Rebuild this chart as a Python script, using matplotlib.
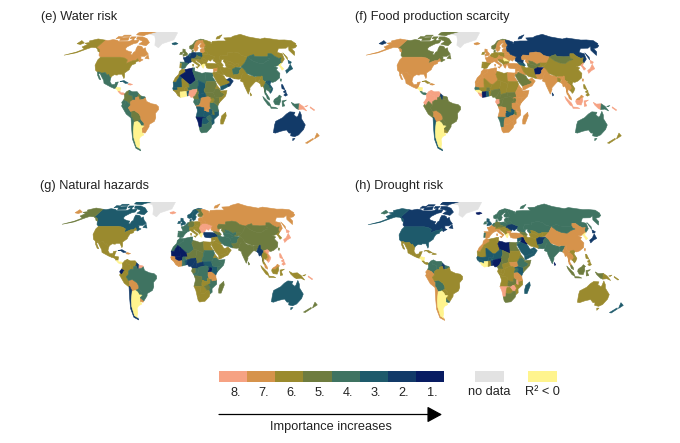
import numpy as np
import matplotlib
matplotlib.use("Agg")
import matplotlib.pyplot as plt
from matplotlib.collections import PolyCollection

plt.rcParams['font.family'] = ['Liberation Sans', 'DejaVu Sans']

SHAPES = {
 "Greenland": [[(-73,78),(-60,82),(-30,84),(-18,80),(-22,70),(-40,65),(-44,60),(-51,63),(-54,70),(-60,76)]],
 "Canada": [[(-141,69.6),(-135,69),(-128,70.3),(-120,69.5),(-115,68),(-108,68),(-100,68),(-96,68.5),(-94,72),(-90,69),(-85,69.7),(-82,69.5),(-82,66),(-87,65),(-90,63.5),(-94,61),(-94.5,59),(-92,57),(-85,55.3),(-82,55),(-82,52.5),(-79.5,51.5),(-79,54.5),(-77,56),(-78,59),(-78,62.3),(-73,62),(-70,61),(-67,58.5),(-64.5,60),(-61,56),(-56,52.5),(-60,50),(-66,50),(-65,48.8),(-64.5,47),(-61,46),(-65.5,43.6),(-67,45),(-69,47.3),(-71,45.2),(-75,45),(-79,43.5),(-82.5,42),(-83,46),(-88,48),(-95,49),(-123,49),(-127,51),(-130,54.5),(-134,58),(-137,59),(-141,60)],
   [(-90,74),(-80,74),(-70,71.5),(-62,66.5),(-65,62.5),(-72,63.5),(-78,64.5),(-74,68),(-82,70),(-88,71)],
   [(-101,74),(-92,74),(-93,71.5),(-100,71.5)],[(-118,76.5),(-105,76.5),(-105,74.5),(-118,74.5)],
   [(-125,74.5),(-116,74),(-118,71.8),(-125,71.5)],[(-118,72.5),(-104,73.5),(-101,69.5),(-115,69)],
   [(-96,77),(-80,75.5),(-78,77),(-62,82),(-75,84),(-92,81.5)],[(-96,80.5),(-88,80),(-88,78),(-96,78)],
   [(-59,47.7),(-53,47),(-56,51.5)]],
 "Alaska": [[(-141,69.6),(-156,71.2),(-166,68.5),(-162,66.5),(-168,65.6),(-161,64),(-165,61),(-158,58.5),(-165,54.8),(-178,51.3),(-164,54),(-153,59),(-149,60.5),(-141,60),(-137,59),(-134,58),(-130,55),(-133,55.5),(-137,58.2),(-141,60)]],
 "USA": [[(-123,49),(-95,49),(-88,48),(-83,46),(-82.5,42),(-79,43.5),(-75,45),(-71,45.2),(-69,47.3),(-67,45),(-70,43.5),(-70,41.7),(-74,40.5),(-75.5,37.5),(-76,35),(-81,31.5),(-80,27),(-80.5,25.2),(-82.5,28),(-84,30),(-89,30),(-90,29),(-94,29.5),(-97,27.5),(-97.5,26),(-99.5,27.5),(-101.5,29.8),(-103,29),(-106.5,31.8),(-111,31.3),(-114.8,32.5),(-117.1,32.5),(-120.5,34.5),(-124,40),(-124.5,46)]],
 "Mexico": [[(-117.1,32.5),(-114.8,32.5),(-111,31.3),(-106.5,31.8),(-103,29),(-101.5,29.8),(-99.5,27.5),(-97.5,26),(-97.8,22),(-95,18.5),(-91,18.8),(-90.5,21),(-87,21.5),(-88.3,18),(-91,17.5),(-92,14.6),(-96,16),(-105,20),(-106,23),(-109.5,27),(-113,31),(-114.5,30),(-110,24),(-112,24.5),(-115.5,29)]],
 "Guatemala": [[(-92,14.6),(-91,17.5),(-88.3,18),(-88.5,15.8),(-89.5,14)]],
 "Honduras": [[(-89.5,14),(-88.5,15.8),(-83.2,15),(-83.7,11),(-86,11),(-87.5,13)]],
 "CostaRica": [[(-83.7,11),(-82.5,9.5),(-79.5,9.5),(-77.3,8.5),(-78,7.3),(-80.5,7.3),(-83,8.3),(-86,11)]],
 "Cuba": [[(-85,22),(-80,23),(-74,20.2),(-78,19.9),(-82,22.3)]],
 "Hispaniola": [[(-74.4,18.5),(-73,19.9),(-68.5,18.7),(-71,18)]],
 "Colombia": [[(-77.3,8.5),(-75,11),(-72,12.2),(-72.5,7.5),(-67.5,6),(-67,1.5),(-70,-0.5),(-70,-4.2),(-74,-0.5),(-75.2,-0.1),(-78.8,1.4),(-77.5,4),(-78,7.3)]],
 "Venezuela": [[(-72,12.2),(-68,10.6),(-62,10.7),(-60,8.5),(-61,5),(-64,4),(-64,1.5),(-67,1.5),(-67.5,6),(-72.5,7.5)]],
 "Guyana": [[(-60,8.5),(-57,6),(-57,2),(-59,1.5),(-60,5),(-61,5)]],
 "Suriname": [[(-57,6),(-52,5),(-51.5,4),(-54,2.3),(-57,2)]],
 "Ecuador": [[(-78.8,1.4),(-75.2,-0.1),(-78.4,-4.5),(-80.3,-3.4),(-81,-1)]],
 "Peru": [[(-80.3,-3.4),(-78.4,-4.5),(-75.2,-0.1),(-74,-0.5),(-70,-4.2),(-73,-7),(-70.5,-11),(-69,-12.5),(-69.5,-17.3),(-70.4,-18.3),(-76,-14),(-81.3,-5)]],
 "Bolivia": [[(-70.5,-11),(-65.5,-10),(-60,-13.5),(-58,-17),(-58,-20),(-62.5,-22),(-67,-23),(-69.5,-17.3),(-69,-12.5)]],
 "Paraguay": [[(-58,-20),(-54.5,-24),(-55,-27),(-58.5,-27),(-60,-24),(-62.5,-22)]],
 "Chile": [[(-69.5,-17.3),(-67,-23),(-70,-33),(-71.5,-40),(-72,-50),(-68.5,-52.5),(-68.5,-55),(-74,-52),(-74,-42),(-71.5,-30),(-70.4,-18.3)]],
 "Argentina": [[(-67,-23),(-62.5,-22),(-60,-24),(-58.5,-27),(-55,-27),(-53.8,-27),(-57.6,-30),(-58.4,-33.5),(-57,-37),(-62,-39),(-65,-42),(-66,-47),(-69,-51),(-68.5,-52.5),(-72,-50),(-71.5,-40),(-70,-33)]],
 "Uruguay": [[(-57.6,-30),(-53.5,-33.5),(-55,-35),(-58.4,-34)]],
 "Brazil": [[(-51.5,4),(-50,0),(-44,-2.5),(-38,-3.5),(-35,-6),(-35,-9),(-39,-13),(-39,-18),(-41,-22),(-48,-25.5),(-48.5,-28),(-53.5,-33.5),(-57.6,-30),(-53.8,-27),(-55,-27),(-54.5,-24),(-58,-20),(-58,-17),(-60,-13.5),(-65.5,-10),(-70.5,-11),(-73,-7),(-70,-4.2),(-70,-0.5),(-67,1.5),(-64,1.5),(-64,4),(-61,5),(-60,5),(-59,1.5),(-54,2.3)]],
 "Morocco": [[(-5.9,35.8),(-2,35.1),(-1.2,32.5),(-8.7,28.5),(-8.7,27.7),(-12,23.5),(-13,21.3),(-17,21.3),(-14.5,26),(-10,30),(-9.5,33)]],
 "Algeria": [[(-2,35.1),(8.6,37),(8.3,33),(9.5,30),(12,23.5),(6,19),(3,19),(-4.8,25),(-8.7,27.7),(-8.7,28.5),(-1.2,32.5)]],
 "Tunisia": [[(8.6,37),(11,37),(10.5,34),(11.5,33),(9.5,30),(8.3,33)]],
 "Libya": [[(11.5,33),(15,32.5),(20,31),(25,31.8),(25,20),(24,19.5),(15,23),(12,23.5),(9.5,30)]],
 "Egypt": [[(25,31.8),(34.2,31.3),(34.5,28),(33,28),(37,22),(25,22)]],
 "Mauritania": [[(-17,21.3),(-13,21.3),(-12,23.5),(-8.7,27.7),(-4.8,25),(-6,25),(-5.5,15.5),(-12,15),(-16.5,16)]],
 "Mali": [[(-4.8,25),(3,19),(4,15),(1,15),(-2,15),(-3,11),(-5.5,10.5),(-8,10.5),(-12,12.5),(-12,15),(-5.5,15.5),(-6,25)]],
 "Niger": [[(3,19),(6,19),(12,23.5),(15,23),(15.5,19),(13.5,13.7),(8,13),(3.5,11.7),(1,13.5),(1,15),(4,15)]],
 "Chad": [[(15,23),(24,19.5),(24,15.7),(22,12.5),(23,9.5),(15,7.5),(15,10),(14,13),(13.5,13.7),(15.5,19)]],
 "Sudan": [[(25,22),(37,22),(38.5,18),(36.5,14),(34,10),(33,10),(27,9.5),(23,9.5),(22,12.5),(24,15.7),(24,19.5),(25,20)]],
 "SouthSudan": [[(23,9.5),(27,9.5),(33,10),(34,10),(35,5),(30.5,3.6),(27.5,5),(25,5)]],
 "Senegal": [[(-16.5,16),(-12,15),(-12,12.5),(-16.7,12.4),(-17.4,14.7)]],
 "Guinea": [[(-16.7,12.4),(-12,12.5),(-8,10.5),(-8,8),(-10.5,9),(-13,9.5)]],
 "Liberia": [[(-13,9.5),(-10.5,9),(-8,8),(-7.5,4.4),(-11,6.5)]],
 "CoteIvoire": [[(-8,10.5),(-5.5,10.5),(-3,11),(-2.8,9.5),(-3,5),(-7.5,4.4),(-8,8)]],
 "Burkina": [[(-3,11),(-2,15),(1,15),(1,13.5),(2.5,11.5),(-1,11)]],
 "Ghana": [[(-3,11),(-1,11),(0.5,11),(1,6),(-3,5),(-2.8,9.5)]],
 "Benin": [[(0.5,11),(2.5,11.5),(3.5,11.7),(2.7,6.3),(1,6)]],
 "Nigeria": [[(3.5,11.7),(8,13),(13.5,13.7),(14,11.5),(11,6.5),(8.5,4.7),(5.5,4.5),(4,6.4),(2.7,6.3)]],
 "Cameroon": [[(13.5,13.7),(14,13),(15,10),(15,7.5),(16,2),(9.8,2.3),(8.5,4.7),(11,6.5),(14,11.5)]],
 "CAR": [[(15,7.5),(23,9.5),(25,5),(18.5,3.7),(16,2)]],
 "Gabon": [[(9.8,2.3),(14,2.2),(14.4,-2.3),(11,-3.8),(8.8,-0.7)]],
 "Congo": [[(14,2.2),(16,2),(18.5,3.7),(17.7,-1),(15.8,-4),(12,-5),(11,-3.8),(14.4,-2.3)]],
 "DRC": [[(18.5,3.7),(25,5),(27.5,5),(30.5,3.6),(31,1.5),(29.5,-1.5),(29.5,-6),(30.7,-8.2),(28.5,-9),(28.7,-12),(26,-11.8),(22,-11),(21.8,-7),(16.5,-6),(12.3,-6),(12,-5),(15.8,-4),(17.7,-1)]],
 "Angola": [[(12.3,-6),(16.5,-6),(21.8,-7),(22,-11),(24,-11),(22,-13),(22,-16.5),(23.5,-17.5),(12,-17.3),(13.7,-11),(13.5,-9)]],
 "Zambia": [[(22,-11),(26,-11.8),(28.7,-12),(28.5,-9),(30.7,-8.2),(33,-9.5),(33,-13.5),(30.5,-15.5),(28,-16),(25.2,-17.8),(23.5,-17.5),(22,-16.5),(22,-13),(24,-11)]],
 "Namibia": [[(12,-17.3),(23.5,-17.5),(25.2,-17.8),(21,-18.3),(20,-22),(20,-28.5),(16.5,-28.6),(14.5,-22)]],
 "Botswana": [[(21,-18.3),(25.2,-17.8),(29.3,-22.2),(26,-25),(23,-25.3),(20,-24.8),(20,-22)]],
 "Zimbabwe": [[(25.2,-17.8),(28,-16),(30.5,-15.5),(33,-19),(31.5,-22.3),(29.3,-22.2)]],
 "Mozambique": [[(30.5,-15.5),(33,-14),(34.5,-11.5),(40.4,-10.5),(40.7,-15),(35,-20),(35.5,-24),(32.8,-26),(31.5,-22.3),(33,-19)]],
 "Malawi": [[(33,-9.5),(34.5,-9.5),(35,-15),(33,-14)]],
 "Tanzania": [[(29.5,-6),(29.5,-1.5),(34,-1),(37.5,-3.5),(39.2,-5),(39.5,-8),(40.4,-10.5),(34.5,-11.5),(34.5,-9.5),(33,-9.5),(30.7,-8.2)]],
 "Uganda": [[(30.5,3.6),(34,4),(35,1.5),(34,-1),(29.5,-1.5),(31,1.5)]],
 "Kenya": [[(35,5),(41,4),(41,-1.5),(39.2,-5),(37.5,-3.5),(34,-1),(35,1.5),(34,4),(30.5,3.6)]],
 "Ethiopia": [[(36.5,14),(40,14.8),(43,11.5),(42.5,11),(48,8),(45,5),(41,4),(35,5),(34,10)]],
 "Eritrea": [[(36.5,14),(38.5,18),(43,12.5),(40,14.8)]],
 "Somalia": [[(43,11.5),(51,12),(49,6),(41,-1.5),(41,4),(45,5),(48,8),(42.5,11)]],
 "SouthAfrica": [[(16.5,-28.6),(20,-28.5),(20,-24.8),(23,-25.3),(26,-25),(29.3,-22.2),(31.5,-22.3),(32.8,-26),(32,-29),(27,-34),(20,-34.8),(18,-33)]],
 "Madagascar": [[(49.3,-12),(50.3,-16),(47,-25),(44,-25),(43.5,-21),(44.5,-16)]],
 "Spain": [[(-9,43.5),(-2,43.4),(3.2,42.3),(0,39.5),(-2,36.8),(-5.5,36),(-7.4,37.2),(-7,42)]],
 "Portugal": [[(-8.8,42),(-7,42),(-7.4,37.2),(-9,37)]],
 "France": [[(-2,43.4),(-4.7,48.4),(-1.5,48.7),(2.5,51),(5,49.5),(8,49),(7.5,47.6),(7,46),(7.5,44),(3.2,42.3)]],
 "UK": [[(-5,50),(1,51.2),(1.5,53),(-2,56),(-2,58),(-5.5,58.5),(-5.5,54.8),(-3,53.5),(-5,52)]],
 "Ireland": [[(-10,52),(-6,52.3),(-6,55),(-9,54.5)]],
 "Benelux": [[(2.5,51),(4.5,53),(7,53.5),(6,50),(5,49.5)]],
 "Germany": [[(7,53.5),(9,55),(14,54),(15,51),(13,48.5),(10,47.5),(7.5,47.6),(8,49),(5,49.5),(6,50)]],
 "Austria": [[(7.5,47.6),(10,47.5),(13,48.5),(17,48.5),(16,46.8),(13.7,46.5),(10,46.3),(7,46)]],
 "Italy": [[(7,46),(10,46.3),(13.7,46.5),(12.3,44.5),(16,41.8),(18.5,40),(16,38),(15.5,40),(11,42.5),(8.5,44.3),(7.5,44)],[(12.5,38),(15.5,38.2),(15,36.7)],[(8.3,41),(9.7,41),(9.5,39),(8.5,39)]],
 "Poland": [[(14,54),(19,54.5),(23.5,54),(24,50.5),(22.5,49),(19,49.5),(15,51)]],
 "Czechia": [[(15,51),(19,49.5),(22.5,49),(22,48.4),(17,48.5),(13,48.5)]],
 "Hungary": [[(16,46.8),(17,48.5),(22,48.4),(21,46.2),(18.5,45.8)]],
 "Balkans": [[(13.7,46.5),(16,46.8),(18.5,45.8),(21,46.2),(22.7,44.2),(23,41.3),(20.5,40),(19.3,41.8),(14,45)]],
 "Romania": [[(21,46.2),(22,48.4),(24,48),(28,45.5),(29.5,45),(28.5,43.7),(22.7,44.2)]],
 "Bulgaria": [[(22.7,44.2),(28.5,43.7),(27.5,42),(26,41.3),(23,41.3)]],
 "Greece": [[(20.5,40),(23,41.3),(26,41.3),(24,40),(23.5,38),(22.5,36.6),(21,38)]],
 "Ukraine": [[(24,50.5),(24,51.8),(32,52.3),(40,49.5),(38,47),(35,46),(33.5,44.5),(30.5,46),(29.5,45),(28,45.5),(24,48),(22,48.4),(22.5,49)]],
 "Belarus": [[(23.5,54),(28,56),(31,54.5),(32,52.3),(24,51.8),(24,50.5)]],
 "Baltics": [[(21,55),(21,57.5),(24,59.3),(28,59.5),(28,56),(23.5,54)]],
 "Norway": [[(5,59),(8,58),(11,59),(12.5,61),(14,65),(18,68.5),(25,69),(31,70),(25,71),(15,68.5),(10,64),(5,62)]],
 "Sweden": [[(11,59),(13,55.5),(16,56.5),(18.5,60),(17,62),(21.5,65),(24,66),(23,68),(20,69),(18,68.5),(14,65),(12.5,61)]],
 "Finland": [[(24,66),(25,65),(21.5,63),(21.5,60.7),(25,60),(28,60.5),(31,63),(29,67),(29,69.5),(25,69),(20,69),(23,68)]],
 "Denmark": [[(8,55),(8.5,57),(10.5,57.5),(10,55)]],
 "Iceland": [[(-24,65.5),(-18,66.5),(-14,65),(-19,63.5),(-22.5,64)]],
 "Russia": [[(29,69.5),(33,69.5),(41,67),(40,64.5),(44,68),(54,68.5),(68,68.5),(67,72.5),(74,72.8),(80,73),(87,75),(104,77.7),(113,74),(130,71),(140,72.5),(160,69.7),(170,69.8),(180,69),(180,65),(178,64.5),(177,62.5),(170,60),(163,59),(162,55),(156.7,51),(156,57),(163,62),(155,59.5),(143,59.3),(135,54.5),(141,53),(138,46.8),(132,43),(130.5,42.5),(131,45),(135,48.4),(131,47.7),(127,50),(125,53),(120,53),(117,49.7),(108,49.5),(98,50),(98,52),(92,50.8),(87.5,49.2),(80,51),(77,54),(71,55),(61,54),(59,51),(50,51.5),(47,49),(47,46),(49,46),(47.5,43),(48.5,41.8),(40,43.5),(37,45),(38,47),(40,49.5),(32,52.3),(31,54.5),(28,56),(28,59.5),(30,60),(28,60.5),(31,63),(29,67)],
   [(-180,65),(-180,69),(-170,66),(-173,64)],[(142,46),(143,54),(144,49)],[(52,71),(56,74),(68,77),(58,71.5)]],
 "Kazakhstan": [[(47,49),(50,51.5),(59,51),(61,54),(71,55),(77,54),(80,51),(87.5,49.2),(85,47),(80,42.5),(71,42.5),(66,41),(61,44),(56,45),(56,41.3),(53,42),(51,44.5),(53,46.5),(49,46),(47,46)]],
 "Turkmenistan": [[(53,42),(56,41.3),(61,41),(66,37.5),(61,35.5),(54,37.3),(53,39.5)]],
 "Uzbekistan": [[(56,41.3),(56,45),(61,44),(66,41),(71,42.5),(71,40),(66,37.5),(61,41)]],
 "Kyrgyzstan": [[(71,42.5),(80,42.5),(74,38.5),(67,37.2),(66,37.5),(71,40)]],
 "Turkey": [[(26,40),(26.5,42),(28,42),(35,42),(41.5,41.5),(44.5,39.5),(44.5,37),(36,36),(30,36.3),(27,37)]],
 "Caucasus": [[(40,43.5),(48.5,41.8),(50,40),(48,38.5),(44.5,39.5),(41.5,41.5)]],
 "Syria": [[(36,36),(42,37),(41,34),(36,32.5),(35.5,33.5)]],
 "Iraq": [[(42,37),(44.5,37),(46,33),(48.5,30),(46.5,29),(39,32),(41,34)]],
 "Jordan": [[(34.2,31.3),(36,32.5),(39,32),(37,30),(35,29.5)]],
 "Iran": [[(44.5,39.5),(48,38.5),(50,37),(54,37.3),(61,35.5),(61,31),(63,26.5),(61.5,25),(57,26.5),(52,27.5),(48.5,30),(46,33),(44.5,37)]],
 "Saudi": [[(35,29.5),(37,30),(39,32),(46.5,29),(48.5,28),(50,25),(51.5,24),(55.5,22),(55,20),(52,19),(43.3,16.5),(39,21),(35,28)]],
 "Yemen": [[(43.3,16.5),(52,19),(53,16.5),(45,12.7),(43.3,12.7)]],
 "Oman": [[(51.5,24),(56,26),(59.8,22.5),(55,17),(53,16.5),(52,19),(55,20),(55.5,22)]],
 "Afghanistan": [[(61,31),(61,35.5),(66,37.5),(67,37.2),(74.5,37.5),(70,34),(69,31),(66,29.5),(61,29.5)]],
 "Pakistan": [[(63,26.5),(61,29.5),(66,29.5),(69,31),(70,34),(74.5,37.5),(77,35),(74,31),(71,28),(70,25),(67,24.5),(61.5,25)]],
 "India": [[(74,34.5),(77,35),(79,31),(81,28),(88,26.5),(92,28),(97,28),(94,24),(92,23),(89,26),(88.5,22),(87,21),(80,15),(80,13),(77.5,8),(73,18),(72.5,21),(69,22.5),(70,25),(71,28),(74,31)]],
 "Nepal": [[(80,29),(88,27.5),(88,26.4),(81,27.5)]],
 "Bangladesh": [[(88.5,22),(89,26),(92,25),(92,21)]],
 "SriLanka": [[(80,9.5),(81.8,7),(80.5,6),(79.8,8)]],
 "China": [[(74,38.5),(80,42.5),(85,47),(87.5,49.2),(92,45),(98,42.5),(105,41.8),(112,44.8),(119,46.5),(116,48),(117,49.7),(120,53),(125,53),(127,50),(131,47.7),(135,48.4),(131,45),(130.5,42.5),(125,40),(121.5,39),(118,39),(122,37),(119,35),(122,31),(120,26),(114,22.3),(110,21),(108,21.5),(106,23),(102,22),(99.5,22),(97.5,24),(98,28),(92,28),(88,27.5),(80,30.5),(79,31),(77,35),(74.5,37.5)]],
 "Mongolia": [[(87.5,49.2),(92,50.8),(98,52),(98,50),(108,49.5),(117,49.7),(116,48),(119,46.5),(112,44.8),(105,41.8),(98,42.5),(92,45)]],
 "Taiwan": [[(121,25),(122,24.5),(120.8,22),(120,23.5)]],
 "Korea": [[(125,40),(130.5,42.5),(127.5,39.5),(129.5,36),(126.5,34.5),(126,37.5)]],
 "Japan": [[(131,34),(136,36.5),(140,40),(141.5,41),(141.5,36),(136,34),(131,31)],[(140,42),(142,45.5),(145,43.5),(143,42)]],
 "Myanmar": [[(92,21),(94,24),(97,28),(98,28),(97.5,24),(99.5,22),(101,21),(98,17),(98.5,10),(97.5,17),(94.5,16),(94,19)]],
 "Thailand": [[(98,17),(101,21),(105,18),(105.5,14.5),(102.5,12),(100.5,13.5),(99.5,10),(102,6),(100,6.5),(98.5,8)]],
 "Vietnam": [[(102,22),(106,23),(108,21.5),(106,19),(109,14),(107,10.5),(105,8.8),(104.5,10.5),(107,14.5),(107,15.5),(104,19.5)]],
 "Laos": [[(101,21),(102,22),(104,19.5),(107,15.5),(105.5,14.5),(105,18)]],
 "Cambodia": [[(102.5,12),(105.5,14.5),(107,14.5),(104.5,10.5)]],
 "Malaysia": [[(100.2,6.5),(102,6),(103.5,4),(104,1.5),(101,3)],[(109.5,1.5),(111,3),(114,4.5),(116.5,7),(119,5),(117.5,4.2),(115,2.5),(114,1)]],
 "Indonesia": [[(95.5,5.5),(104,-2),(106,-6),(102,-4),(97,2)],[(105.5,-6.2),(111,-6.5),(114.5,-7.8),(106,-7.6)],[(109.5,1.5),(114,1),(115,2.5),(117.5,4.2),(118,1),(116,-4),(111,-3.5),(109,-0.5)],[(119.5,0.5),(125,1.5),(121,-1),(123,-5),(120,-5.5)],[(131,-1),(135,-3),(141,-2.6),(141,-9),(138,-8),(133,-4)]],
 "PNG": [[(141,-2.6),(146,-5.5),(151,-10.5),(146,-8.5),(141,-9)],[(148,-5.5),(152,-4.5),(150,-6)]],
 "Solomon": [[(155,-6),(161,-9.5),(160,-10),(155,-7)]],
 "Philippines": [[(120.5,18.5),(122,18.5),(124,13),(120.5,14)],[(122,7),(125,9.8),(126.5,7),(124,5.8)],[(122,11),(125,12.5),(125,10),(122.5,9.5)]],
 "Australia": [[(114,-22),(113.5,-26),(115,-34.5),(118,-35),(124,-33),(131,-31.5),(136,-35),(138.5,-34.8),(140,-38),(146,-39),(150,-37),(153,-31),(153,-26),(146,-19),(145,-15),(142.5,-11),(141,-16),(140,-17.5),(135.5,-15),(136.5,-12),(130,-11.5),(126,-14),(122,-18)],[(145,-41),(148,-41),(147,-43.5)]],
 "NewZealand": [[(173,-35),(178.5,-38),(175,-41.5),(174,-39)],[(172.5,-40.8),(174,-42),(170,-46.5),(167,-46)]],
}

# rank 1-8 = importance, 0 = R2<0, 9 = no data
RANK_E = dict(Greenland=9,Canada=7,Alaska=6,USA=6,Mexico=4,Guatemala=4,Honduras=0,CostaRica=8,Cuba=3,Hispaniola=8,
 Colombia=5,Venezuela=4,Guyana=5,Suriname=4,Ecuador=4,Peru=4,Bolivia=5,Paraguay=4,Chile=4,Argentina=0,Uruguay=7,Brazil=7,
 Morocco=6,Algeria=1,Tunisia=4,Libya=4,Egypt=4,Mauritania=3,Mali=6,Niger=4,Chad=3,Sudan=5,SouthSudan=5,Senegal=3,Guinea=6,Liberia=6,CoteIvoire=0,Burkina=6,Ghana=0,Benin=3,Nigeria=8,Cameroon=5,CAR=3,Gabon=4,Congo=4,DRC=7,Angola=3,Zambia=3,Namibia=1,Botswana=3,Zimbabwe=4,Mozambique=3,Malawi=5,Tanzania=4,Uganda=6,Kenya=5,Ethiopia=5,Eritrea=6,Somalia=6,SouthAfrica=4,Madagascar=6,
 Spain=4,Portugal=6,France=2,UK=5,Ireland=5,Benelux=3,Germany=2,Austria=5,Italy=6,Poland=3,Czechia=5,Hungary=5,Balkans=6,Romania=6,Bulgaria=6,Greece=0,Ukraine=6,Belarus=6,Baltics=7,Norway=5,Sweden=7,Finland=7,Denmark=5,Iceland=3,Russia=6,
 Kazakhstan=6,Turkmenistan=6,Uzbekistan=6,Kyrgyzstan=6,Turkey=6,Caucasus=6,Syria=7,Iraq=6,Jordan=6,Iran=6,Saudi=6,Yemen=3,Oman=2,Afghanistan=4,Pakistan=6,India=6,Nepal=6,Bangladesh=6,SriLanka=6,China=4,Mongolia=4,Taiwan=4,Korea=0,Japan=3,Myanmar=6,Thailand=4,Vietnam=3,Laos=3,Cambodia=4,Malaysia=4,Indonesia=4,PNG=8,Solomon=8,Philippines=2,Australia=2,NewZealand=7)
RANK_F = dict(Greenland=9,Canada=5,Alaska=7,USA=7,Mexico=7,Guatemala=7,Honduras=0,CostaRica=4,Cuba=6,Hispaniola=7,
 Colombia=8,Venezuela=8,Guyana=2,Suriname=5,Ecuador=8,Peru=5,Bolivia=7,Paraguay=5,Chile=3,Argentina=0,Uruguay=6,Brazil=5,
 Morocco=7,Algeria=7,Tunisia=7,Libya=6,Egypt=7,Mauritania=7,Mali=6,Niger=6,Chad=6,Sudan=6,SouthSudan=5,Senegal=4,Guinea=0,Liberia=8,CoteIvoire=1,Burkina=5,Ghana=3,Benin=6,Nigeria=5,Cameroon=5,CAR=5,Gabon=8,Congo=5,DRC=5,Angola=7,Zambia=3,Namibia=4,Botswana=7,Zimbabwe=7,Mozambique=7,Malawi=5,Tanzania=7,Uganda=5,Kenya=7,Ethiopia=7,Eritrea=7,Somalia=7,SouthAfrica=7,Madagascar=7,
 Spain=6,Portugal=6,France=7,UK=7,Ireland=6,Benelux=6,Germany=6,Austria=7,Italy=7,Poland=6,Czechia=7,Hungary=7,Balkans=6,Romania=0,Bulgaria=6,Greece=7,Ukraine=7,Belarus=7,Baltics=7,Norway=5,Sweden=7,Finland=7,Denmark=5,Iceland=7,Russia=2,
 Kazakhstan=7,Turkmenistan=5,Uzbekistan=5,Kyrgyzstan=6,Turkey=7,Caucasus=3,Syria=7,Iraq=7,Jordan=7,Iran=6,Saudi=5,Yemen=7,Oman=7,Afghanistan=1,Pakistan=7,India=7,Nepal=7,Bangladesh=6,SriLanka=2,China=6,Mongolia=5,Taiwan=7,Korea=8,Japan=8,Myanmar=7,Thailand=7,Vietnam=6,Laos=6,Cambodia=6,Malaysia=7,Indonesia=8,PNG=4,Solomon=8,Philippines=6,Australia=4,NewZealand=6)
RANK_G = dict(Greenland=9,Canada=3,Alaska=5,USA=6,Mexico=6,Guatemala=6,Honduras=6,CostaRica=0,Cuba=2,Hispaniola=7,
 Colombia=6,Venezuela=6,Guyana=2,Suriname=8,Ecuador=1,Peru=6,Bolivia=7,Paraguay=4,Chile=2,Argentina=0,Uruguay=7,Brazil=4,
 Morocco=4,Algeria=4,Tunisia=4,Libya=5,Egypt=6,Mauritania=1,Mali=1,Niger=5,Chad=5,Sudan=4,SouthSudan=3,Senegal=7,Guinea=7,Liberia=7,CoteIvoire=7,Burkina=4,Ghana=4,Benin=3,Nigeria=2,Cameroon=2,CAR=2,Gabon=5,Congo=4,DRC=4,Angola=5,Zambia=6,Namibia=6,Botswana=6,Zimbabwe=5,Mozambique=4,Malawi=4,Tanzania=7,Uganda=1,Kenya=3,Ethiopia=4,Eritrea=6,Somalia=4,SouthAfrica=6,Madagascar=5,
 Spain=4,Portugal=4,France=4,UK=3,Ireland=3,Benelux=4,Germany=5,Austria=6,Italy=6,Poland=6,Czechia=6,Hungary=6,Balkans=6,Romania=8,Bulgaria=8,Greece=0,Ukraine=8,Belarus=7,Baltics=7,Norway=3,Sweden=3,Finland=5,Denmark=3,Iceland=8,Russia=7,
 Kazakhstan=5,Turkmenistan=4,Uzbekistan=4,Kyrgyzstan=5,Turkey=2,Caucasus=5,Syria=6,Iraq=6,Jordan=6,Iran=4,Saudi=6,Yemen=6,Oman=6,Afghanistan=4,Pakistan=5,India=5,Nepal=5,Bangladesh=5,SriLanka=5,China=5,Mongolia=5,Taiwan=5,Korea=6,Japan=8,Myanmar=2,Thailand=6,Vietnam=8,Laos=7,Cambodia=7,Malaysia=7,Indonesia=6,PNG=6,Solomon=8,Philippines=8,Australia=3,NewZealand=5)
RANK_H = dict(Greenland=9,Canada=2,Alaska=3,USA=3,Mexico=6,Guatemala=6,Honduras=0,CostaRica=6,Cuba=6,Hispaniola=6,
 Colombia=4,Venezuela=4,Guyana=2,Suriname=4,Ecuador=7,Peru=7,Bolivia=4,Paraguay=6,Chile=7,Argentina=0,Uruguay=4,Brazil=6,
 Morocco=7,Algeria=6,Tunisia=6,Libya=1,Egypt=5,Mauritania=6,Mali=3,Niger=3,Chad=5,Sudan=6,SouthSudan=7,Senegal=3,Guinea=3,Liberia=0,CoteIvoire=0,Burkina=3,Ghana=6,Benin=2,Nigeria=1,Cameroon=5,CAR=6,Gabon=6,Congo=6,DRC=6,Angola=6,Zambia=5,Namibia=8,Botswana=6,Zimbabwe=8,Mozambique=6,Malawi=8,Tanzania=7,Uganda=4,Kenya=3,Ethiopia=4,Eritrea=5,Somalia=5,SouthAfrica=5,Madagascar=3,
 Spain=7,Portugal=4,France=7,UK=3,Ireland=4,Benelux=4,Germany=5,Austria=6,Italy=7,Poland=4,Czechia=5,Hungary=6,Balkans=6,Romania=6,Bulgaria=7,Greece=0,Ukraine=2,Belarus=4,Baltics=4,Norway=4,Sweden=4,Finland=4,Denmark=4,Iceland=1,Russia=4,
 Kazakhstan=4,Turkmenistan=6,Uzbekistan=6,Kyrgyzstan=6,Turkey=7,Caucasus=5,Syria=3,Iraq=1,Jordan=4,Iran=6,Saudi=3,Yemen=3,Oman=3,Afghanistan=2,Pakistan=4,India=4,Nepal=4,Bangladesh=4,SriLanka=1,China=7,Mongolia=4,Taiwan=7,Korea=0,Japan=2,Myanmar=7,Thailand=7,Vietnam=6,Laos=6,Cambodia=6,Malaysia=5,Indonesia=5,PNG=6,Solomon=6,Philippines=6,Australia=6,NewZealand=3)

TITLES = ["(e) Water risk", "(f) Food production scarcity", "(g) Natural hazards", "(h) Drought risk"]
PANEL_RANKS = [RANK_E, RANK_F, RANK_G, RANK_H]
LEGEND_RANKS = [8, 7, 6, 5, 4, 3, 2, 1]
LEGEND_LABELS = ["8.", "7.", "6.", "5.", "4.", "3.", "2.", "1."]

COLORS = {8: "#F6A283", 7: "#D6934B", 6: "#9A8A2E", 5: "#6E7C3F", 4: "#3F7361",
          3: "#1E5A6B", 2: "#123A68", 1: "#081C62", 0: "#FFF48E", 9: "#E2E2E2"}

# Robinson projection table
LAT_T = np.arange(0, 95, 5)
X_T = [1,.9986,.9954,.99,.9822,.973,.96,.9427,.9216,.8962,.8679,.835,.7986,.7597,.7186,.6732,.6213,.5722,.5322]
Y_T = [0,.062,.124,.186,.248,.31,.372,.434,.4958,.5571,.6176,.6769,.7346,.7903,.8435,.8936,.9394,.9761,1]

def project(poly):
    a = np.asarray(poly, float)
    lon, lat = a[:, 0], a[:, 1]
    x = .8487 * np.interp(np.abs(lat), LAT_T, X_T) * np.radians(lon)
    y = 1.3523 * np.interp(np.abs(lat), LAT_T, Y_T) * np.sign(lat)
    return np.column_stack([x, y])

W, H = 680, 443
R = 54.0  # px per projected unit
FS = 9.2
INK = "#222222"
fig = plt.figure(figsize=(W / 100, H / 100), dpi=100)
fig.patch.set_facecolor("white")

def px_axes(l, t, r, b):
    return fig.add_axes([l / W, 1 - b / H, (r - l) / W, (b - t) / H])

CENTRES = [(186.5, 101.4), (488.5, 101.4), (184.5, 270.5), (490.5, 271.0)]
TITLE_POS = [(41, 17), (355, 17), (40, 186), (355, 186)]
TOPS = [32, 32, 202, 202]

for (cx, cy), top, ranks, title, tp in zip(CENTRES, TOPS, PANEL_RANKS, TITLES, TITLE_POS):
    l, r, b = cx - 125, cx + 140, cy + 60
    ax = px_axes(l, top, r, b)
    ax.set_xlim((l - cx) / R, (r - cx) / R)
    ax.set_ylim((cy - b) / R, (cy - top) / R)
    ax.axis("off")
    polys, cols = [], []
    for name, parts in SHAPES.items():
        for part in parts:
            polys.append(project(part))
            cols.append(COLORS[ranks[name]])
    ax.add_collection(PolyCollection(polys, facecolors=cols, edgecolors=cols, linewidths=0.4))
    fig.text(tp[0] / W, 1 - tp[1] / H, title, fontsize=FS, va="center", ha="left", color=INK)

# legend colour bar
lax = px_axes(219, 371, 444, 382)
lax.bar(range(len(LEGEND_RANKS)), [1] * len(LEGEND_RANKS), width=1.0,
        color=[COLORS[k] for k in LEGEND_RANKS])
lax.set_xlim(-.5, len(LEGEND_RANKS) - .5)
lax.set_ylim(0, 1)
lax.set_yticks([])
lax.set_xticks(np.arange(len(LEGEND_RANKS)) + 0.08)
lax.set_xticklabels(LEGEND_LABELS, fontsize=FS, color=INK)
lax.tick_params(length=0, pad=3.5)
for s in lax.spines.values():
    s.set_visible(False)

for box, key, text in [((475, 371, 504, 382), 9, "no data"), ((528, 371, 557, 382), 0, "R² < 0")]:
    a = px_axes(*box)
    a.set_facecolor(COLORS[key])
    a.set_xticks([])
    a.set_yticks([])
    for s in a.spines.values():
        s.set_visible(False)
    fig.text((box[0] + box[2]) / 2 / W, 1 - 392 / H, text, fontsize=FS, ha="center", va="center", color=INK)

fig.add_artist(matplotlib.patches.FancyArrowPatch(
    (219 / W, 1 - 414.5 / H), (442 / W, 1 - 414.5 / H), transform=fig.transFigure,
    arrowstyle="-|>,head_length=0.7,head_width=0.38", mutation_scale=13, lw=0.9, color="black", shrinkA=0, shrinkB=0))
fig.text(331 / W, 1 - 427 / H, "Importance increases", fontsize=FS, ha="center", va="center", color=INK)

fig.savefig("out.png", dpi=100)
